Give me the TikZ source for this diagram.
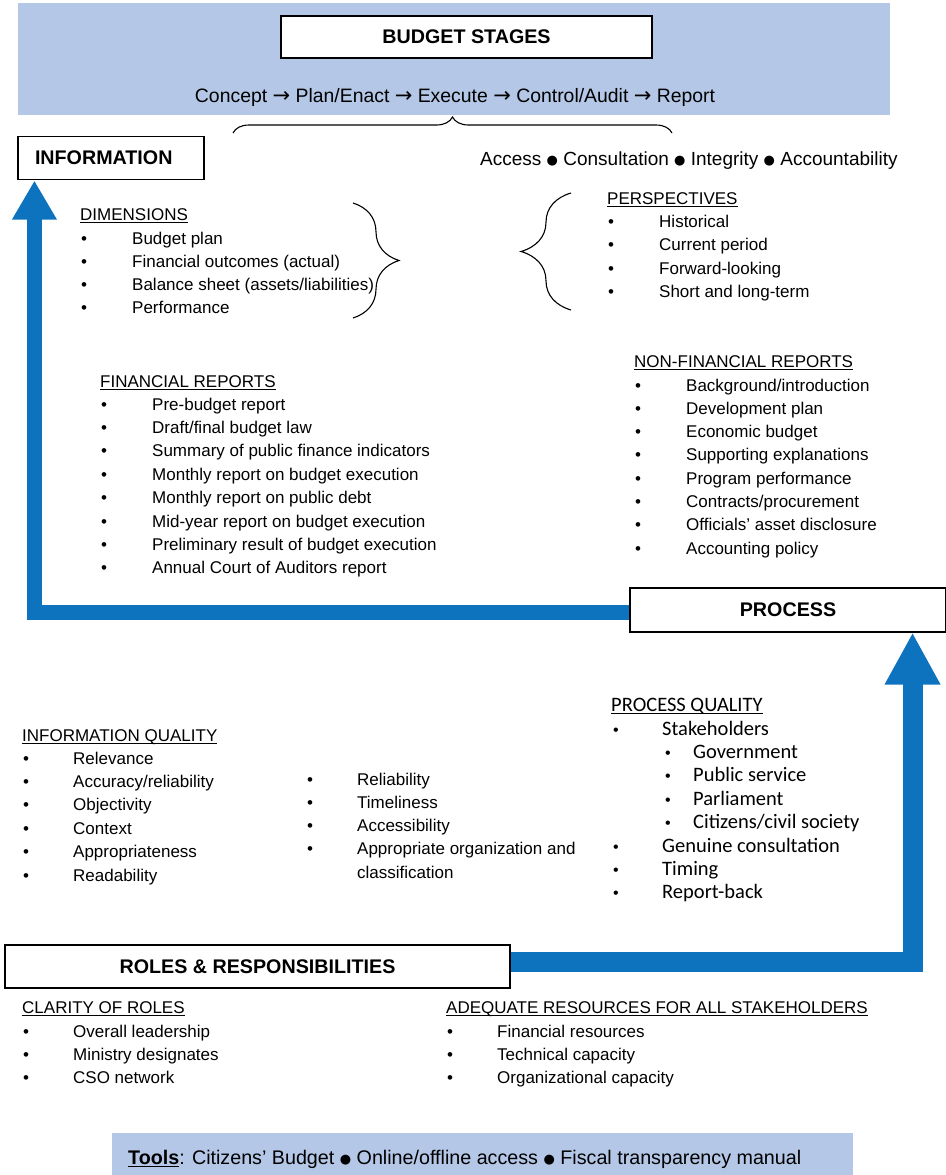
\documentclass[tikz,border=0pt]{standalone}
\usepackage{fontspec}
\setmainfont{Liberation Sans}
\newfontfamily\carlito{Carlito}
\newfontfamily\djv{DejaVu Sans}
\usetikzlibrary{arrows.meta,decorations.pathreplacing,backgrounds}
\definecolor{paleblue}{RGB}{180,199,231}
\definecolor{flowblue}{RGB}{14,115,190}
% underline at a fixed depth below the baseline
\newcommand\ulx[1]{\setbox0\hbox{#1}\rlap{\rule[-2.6pt]{\wd0}{1.1pt}}\box0}
\newcommand\bdot{{\djv\fontsize{13}{13}\selectfont\raisebox{1pt}{●}}}
\newcommand\arr{{\djv\fontsize{21}{21}\selectfont →}}
\begin{document}
\begin{tikzpicture}[x=1pt,y=-1pt,
  titlebox/.style={draw=black,line width=1.1pt,fill=white,inner sep=0pt,
    font=\fontsize{19.7}{22}\selectfont\bfseries},
  head/.style={anchor=base west,inner sep=0pt,font=\fontsize{17}{20}\selectfont},
  bul/.style={anchor=base west,inner sep=0pt,font=\fontsize{17}{20}\selectfont},
  itm/.style={anchor=base west,inner sep=0pt,font=\fontsize{17}{20}\selectfont},
  cbul/.style={anchor=base west,inner sep=0pt,font=\carlito\fontsize{20.5}{24}\selectfont},
  cdot/.style={anchor=base west,inner sep=0pt,font=\fontsize{16}{20}\selectfont},
  big/.style={inner sep=0pt,font=\fontsize{19}{22}\selectfont},
  flowline/.style={draw=flowblue,line cap=butt},
  curly/.style={decorate,line width=1.1pt}
]
\useasboundingbox (0,0) rectangle (945,1175);

% ---------- background bands ----------
\fill[paleblue] (18,3) rectangle (890,115);
\fill[paleblue] (112,1133) rectangle (853,1175);

% ---------- title boxes ----------
\node[titlebox,minimum width=371pt,minimum height=42pt] (stages) at (466.5,37) {BUDGET STAGES};
\node[titlebox,minimum height=43pt,text width=152pt,inner xsep=17pt,align=left] (info) at (111,158) {INFORMATION};
\node[titlebox,minimum width=316pt,minimum height=44pt] (process) at (788,610) {PROCESS};
\node[titlebox,minimum width=505pt,minimum height=43pt] (roles) at (257.5,966.5) {ROLES \& RESPONSIBILITIES};

% ---------- blue flow arrows, under the boxes they join ----------
\begin{scope}[on background layer]
\draw[flowline,line width=15pt,-{Triangle[width=42pt,length=39pt]}]
  ([yshift=-2.5pt]process.west) -| ([xshift=17pt,yshift=-0.5pt]info.south west);
\draw[flowline,line width=20pt,-{Triangle[width=52pt,length=52pt]}]
  ([yshift=5pt]roles.east) -| ([xshift=-34pt]process.south east);
\end{scope}

% ---------- stage line and principles ----------
\node[big,anchor=base,font=\fontsize{19.4}{22}\selectfont] (flow) at (455,102)
  {Concept \arr{} Plan/Enact \arr{} Execute \arr{} Control/Audit \arr{} Report};
\node[big,anchor=base west] (principles) at (480,165)
  {Access \bdot{} Consultation \bdot{} Integrity \bdot{} Accountability};

% ---------- braces ----------
\coordinate (topL) at (233,133);
\coordinate (topR) at (672,133);
\draw[curly,decoration={brace,amplitude=16pt}] (topL) -- (topR);
\coordinate (dimT) at (353,203);
\coordinate (dimB) at (353,318);
\draw[curly,decoration={brace,amplitude=46pt}] (dimT) -- (dimB);
\coordinate (perB) at (571,310);
\coordinate (perT) at (571,193);
\draw[curly,decoration={brace,amplitude=50pt}] (perB) -- (perT);

% ---------- DIMENSIONS ----------
\node[head] (dimh) at (80,220) {\ulx{DIMENSIONS}};
\foreach \t [count=\i] in {Budget plan,Financial outcomes (actual),
    Balance sheet (assets/liabilities),Performance}{
  \node[bul] (dimb\i) at (81,{244+23.3*(\i-1)}) {•};
  \node[itm] (dimt\i) at (132,{244+23.3*(\i-1)}) {\t};
}

% ---------- PERSPECTIVES ----------
\node[head] (perh) at (607,204) {\ulx{PERSPECTIVES}};
\foreach \t [count=\i] in {Historical,Current period,Forward-looking,Short and long-term}{
  \node[bul] (perb\i) at (608,{227+23.6*(\i-1)}) {•};
  \node[itm] (pert\i) at (659,{227+23.6*(\i-1)}) {\t};
}

% ---------- NON-FINANCIAL REPORTS ----------
\node[head] (nfh) at (634,367) {\ulx{NON-FINANCIAL REPORTS}};
\foreach \t [count=\i] in {Background/introduction,Development plan,Economic budget,
    Supporting explanations,Program performance,Contracts/procurement,
    Officials’ asset disclosure,Accounting policy}{
  \node[bul] (nfb\i) at (635,{391+23.3*(\i-1)}) {•};
  \node[itm] (nft\i) at (686,{391+23.3*(\i-1)}) {\t};
}

% ---------- FINANCIAL REPORTS ----------
\node[head] (fh) at (100,387) {\ulx{FINANCIAL REPORTS}};
\foreach \t [count=\i] in {Pre-budget report,Draft/final budget law,
    Summary of public finance indicators,Monthly report on budget execution,
    Monthly report on public debt,Mid-year report on budget execution,
    Preliminary result of budget execution,Annual Court of Auditors report}{
  \node[bul] (fb\i) at (101,{410+23.4*(\i-1)}) {•};
  \node[itm] (ft\i) at (152,{410+23.4*(\i-1)}) {\t};
}

% ---------- INFORMATION QUALITY ----------
\node[head] (iqh) at (22,741) {\ulx{INFORMATION QUALITY}};
\foreach \t [count=\i] in {Relevance,Accuracy/reliability,Objectivity,Context,
    Appropriateness,Readability}{
  \node[bul] (iqb\i) at (23,{764+23.4*(\i-1)}) {•};
  \node[itm] (iqt\i) at (73,{764+23.4*(\i-1)}) {\t};
}
\foreach \t [count=\i] in {Reliability,Timeliness,Accessibility,Appropriate organization and}{
  \node[bul] (iqc\i) at (307,{785+23.3*(\i-1)}) {•};
  \node[itm] (iqu\i) at (357,{785+23.3*(\i-1)}) {\t};
}
\node[itm] (iqu5) at (357,878) {classification};

% ---------- PROCESS QUALITY ----------
\node[cbul] (pqh) at (611,711) {\ulx{PROCESS QUALITY}};
\node[cdot] (pqb1) at (613,735) {•};
\node[cbul] (pqt1) at (662,735) {Stakeholders};
\foreach \t [count=\i] in {Government,Public service,Parliament,Citizens/civil society}{
  \node[cdot] (pqsb\i) at (665,{758.4+23.4*(\i-1)}) {•};
  \node[cbul] (pqst\i) at (693,{758.4+23.4*(\i-1)}) {\t};
}
\foreach \t [count=\i] in {Genuine consultation,Timing,Report-back}{
  \node[cdot] (pqb\i x) at (613,{852+23.4*(\i-1)}) {•};
  \node[cbul] (pqt\i x) at (662,{852+23.4*(\i-1)}) {\t};
}

% ---------- CLARITY OF ROLES / RESOURCES ----------
\node[head] (clh) at (22,1013) {\ulx{CLARITY OF ROLES}};
\foreach \t [count=\i] in {Overall leadership,Ministry designates,CSO network}{
  \node[bul] (clb\i) at (23,{1037+23*(\i-1)}) {•};
  \node[itm] (clt\i) at (73,{1037+23*(\i-1)}) {\t};
}
\node[head] (rsh) at (446,1013) {\ulx{ADEQUATE RESOURCES FOR ALL STAKEHOLDERS}};
\foreach \t [count=\i] in {Financial resources,Technical capacity,Organizational capacity}{
  \node[bul] (rsb\i) at (447,{1037+23*(\i-1)}) {•};
  \node[itm] (rst\i) at (497,{1037+23*(\i-1)}) {\t};
}

% ---------- tools ----------
\node[big,anchor=base west,font=\fontsize{19.7}{22}\selectfont] (tools) at (128,1164)
  {\ulx{\textbf{Tools}}: Citizens’ Budget \bdot{} Online/offline access \bdot{} Fiscal transparency manual};
\end{tikzpicture}
\end{document}
